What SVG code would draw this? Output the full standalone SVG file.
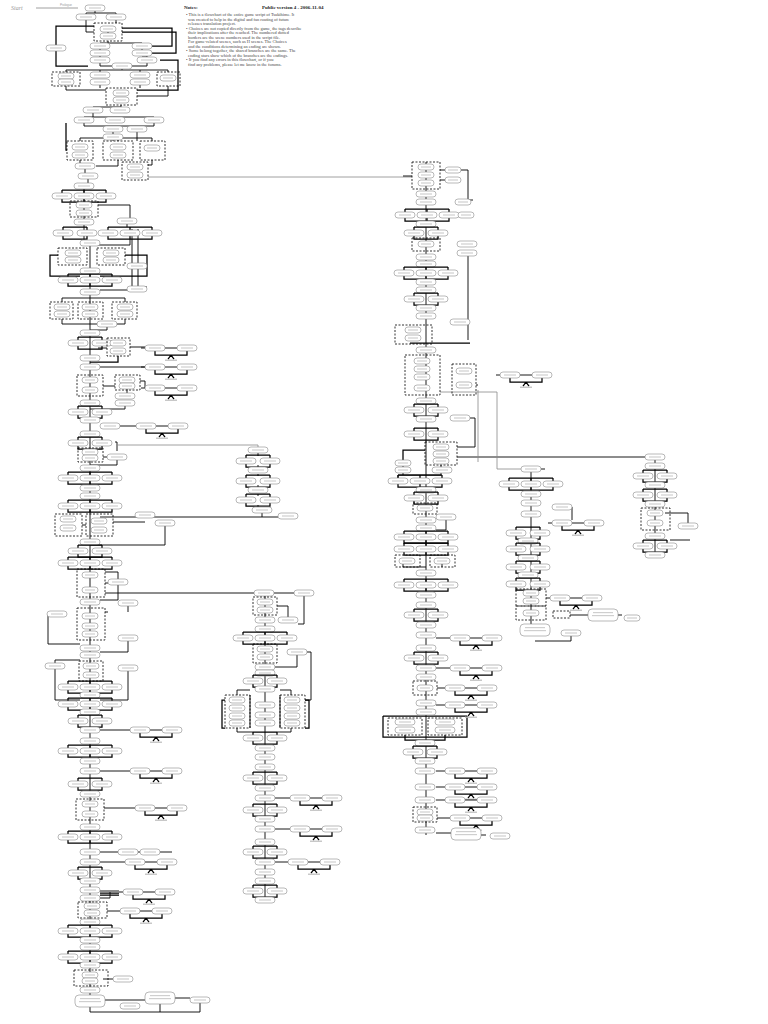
<svg xmlns="http://www.w3.org/2000/svg" xmlns:xlink="http://www.w3.org/1999/xlink" width="768" height="1024" viewBox="0 0 768 1024">
<style>
.n{fill:#fff;stroke:#8a8a8a;stroke-width:.6}
.tx{fill:#cfcfcf}
.c{fill:none;stroke:#000;stroke-width:.9}
.ct{fill:none;stroke:#000;stroke-width:1.25}
.cg{fill:none;stroke:#888;stroke-width:.8}
.d{fill:none;stroke:#000;stroke-width:.8;stroke-dasharray:2,1.5}
.nt{font-family:"Liberation Serif",serif;font-size:4.4px;fill:#444}
.hd{font-family:"Liberation Serif",serif;font-size:5px;font-weight:bold;fill:#222}
</style>
<defs>
<g id="p"><rect class="n" x="-10" y="-3" width="20" height="6" rx="3"/><rect class="tx" x="-6" y="-.6" width="12" height="1.2"/></g>
<g id="ps"><rect class="n" x="-8" y="-3" width="16" height="6" rx="3"/><rect class="tx" x="-5" y="-.6" width="10" height="1.2"/></g>
<g id="pb"><rect class="n" x="-15" y="-6" width="30" height="12" rx="4"/><rect class="tx" x="-10" y="-3" width="20" height="1.2"/><rect class="tx" x="-11" y="0" width="22" height="1.2"/></g>
<g id="b2"><path class="ct" d="M-12,-6H12M-12,-6V-3M12,-6V-3M-12,3V6H12V3"/><use href="#p" x="-12"/><use href="#p" x="12"/></g>
<g id="b3"><path class="ct" d="M-22,-6H22M-22,-6V-3M0,-6V-3M22,-6V-3M-22,3V6H22V3M0,3V6"/><use href="#p" x="-22"/><use href="#p"/><use href="#p" x="22"/></g>
<g id="ch"><path class="ct" d="M0,3V7H32V3M16,7L13,11M16,7L19,11"/><path class="c" d="M-14,0H-10M10,0H22"/><use href="#p"/><use href="#p" x="32"/><rect x="10" y="11.6" width="12" height="1.2" fill="#bbb"/></g>
</defs>
<rect width="768" height="1024" fill="#fff"/>

<g id="notes">
<text class="hd" x="184" y="9">Notes:</text>
<text class="hd" x="262" y="9">Public version 4 - 2006-11-04</text>
<text class="nt" x="186" y="16">• This is a flowchart of the entire game script of Tsukihime. It</text>
<text class="nt" x="188" y="20.5">was created to help in the digital and fan routing of future</text>
<text class="nt" x="188" y="25">releases translation project.</text>
<text class="nt" x="186" y="29.5">• Choices are not copied directly from the game, the tags describe</text>
<text class="nt" x="188" y="34">their implications after the reached. The numbered dotted</text>
<text class="nt" x="188" y="38.5">borders are the scene numbers used in the script file.</text>
<text class="nt" x="188" y="43">For game-related scenes, such as H scenes. The Choices</text>
<text class="nt" x="188" y="47.5">and the conditions determining an ending are shown.</text>
<text class="nt" x="186" y="52">• Some belong together, the shared branches are the same. The</text>
<text class="nt" x="188" y="56.5">ending stars show which of the branches are the endings.</text>
<text class="nt" x="186" y="61">• If you find any errors in this flowchart, or if you</text>
<text class="nt" x="188" y="65.5">find any problems, please let me know in the forums.</text>
<text x="11" y="10" font-family="Liberation Serif,serif" font-size="6" font-style="italic" fill="#999">Start</text>
<text x="60" y="6" font-family="Liberation Sans,sans-serif" font-size="3" fill="#999">Prologue</text>
</g>

<g id="connectors">
<path class="cg" d="M36,8H78"/>
<path class="c" d="M95,11V13M86,13H116M86,13V14M116,13V14M86,20V32H94M116,20V23M108,26V33M108,41V43M100,43H142M100,43V43M100,49V50M100,56V57M142,49V50M142,56H147V57M100,63V66H112M147,63V66H132M122,69V70M66,70H168M66,70V72M100,70V72M140,70V72M168,70V72M66,86V90H106M100,85V88M140,85V88M168,86V96H137M121,105V107M93,107H121M93,113V117M84,117H154M84,123V126H154V123M113,126V126M137,126V126M113,132V134M137,132V141M113,140V141M80,141V138H152V141M118,138V141M80,160V163M85,169V173M118,160V166H96M152,160V165H148M88,179V183"/>
<path class="ct" d="M56,45V26H94M56,51V66H88M152,46H172V28H122M152,53H176V32H122M160,60H178V90H137M66,123V150H67"/>
<path class="cg" d="M148,177H412"/>
<path class="c" d="M84,186V242H90V1000"/>
<path class="c" d="M98,205H130V218M127,224V227M130,239V245H90M132,229V290H100M138,229V287H147"/>
<path class="ct" d="M58,255H50V276H80M125,255H147V276H100"/>
<path class="c" d="M62,302V298H125V302M62,319V324H117M125,319V324H117M107,327V330H90M130,347H145M98,348H107M100,367H145M103,386H115M140,381H145V388M127,389V393M125,406V409H90M120,426H132M115,442H117V451M117,460V465H90M103,457H107"/>
<path class="ct" d="M118,356V362H90"/>
<path class="cg" d="M117,445H258V447"/>
<path class="c" d="M100,517H278M113,522H145M165,526V545H90M82,525H86"/>
<path class="c" d="M105,583H108M118,579V572H105M118,585V600H100M105,593H254M48,614V644H80M108,612H105M128,612V606M128,641V652H100M55,663V660H80M55,669V700H80M128,671V700H100"/>
<path class="c" d="M100,730H126M100,771H126M104,808H131M100,852H118M138,852H140M160,852H172M100,862H121M100,891H119M100,898H110V892M107,911H116M103,979H113M105,1000H145M175,998H190M90,1006V1012H160V1004M200,1003V1012H160"/>
<path class="ct" d="M100,893H119M100,895H119"/>
<path class="c" d="M258,453V456M258,465V467M258,474V476M258,485V487M258,494V496M258,505V507M262,513V517"/>
<path class="c" d="M265,593V900M274,593H294M304,596V624H298M288,617V606H277M307,652H311V700H305M265,667H297V655M250,690H237V695M280,690H291V695M250,695V728M280,695V728M237,728V732H253M291,728V732H277M275,798H286M275,829H286M275,862H284"/>
<path class="ct" d="M225,700H222V728H225M305,700H309V728H305"/>
<path class="c" d="M426,162V835M403,176H412M440,170H445M440,180H445M461,170H468V200H473M468,253V340M403,466V475M398,478V475H441V473M441,465V467M446,520V530H436M403,561V567H426M442,561V567"/>
<path class="ct" d="M410,343H470M425,450H403V460M383,716H467M383,716V737H467V716M405,735V740H425M445,735V740H425"/>
<path class="c" d="M457,457H645M457,447H475V418H470M436,638H446M436,668H446M437,688H441M436,705H441M436,771H441M436,787H441M436,800H441M437,818H446M436,833H451M481,835H486M431,403H425M476,385H478"/>
<path class="cg" d="M478,390V462M440,392H497V469H521"/>
<path class="c" d="M531,469V632M541,469H545M572,507V520M570,615H588M618,615H622M571,636V641H535"/>
<path class="c" d="M655,457V555M665,513H688V523M670,540H690"/>
</g>

<g id="nodes-left">
<use id="l0" href="#p" x="95" y="8"/>
<use id="l1" href="#p" x="86" y="17"/><use id="l2" href="#p" x="116" y="17"/>
<rect class="d" x="94" y="23" width="28" height="18"/>
<use id="l3" href="#ps" x="108" y="29"/><use id="l4" href="#ps" x="108" y="36"/>
<use id="l5" href="#p" x="56" y="48"/>
<use id="l6" href="#p" x="100" y="46"/><use id="l7" href="#p" x="100" y="53"/><use id="l8" href="#p" x="100" y="60"/>
<use id="l9" href="#p" x="142" y="46"/><use id="l10" href="#p" x="142" y="53"/><use id="l11" href="#p" x="147" y="60"/>
<use id="l12" href="#p" x="122" y="66"/>
<rect class="d" x="52" y="72" width="28" height="14"/><use id="l13" href="#ps" x="66" y="76"/><use id="l14" href="#ps" x="66" y="82"/>
<use id="l15" href="#p" x="100" y="75"/><use id="l16" href="#p" x="100" y="82"/>
<use id="l17" href="#p" x="140" y="75"/><use id="l18" href="#p" x="140" y="82"/>
<rect class="d" x="157" y="72" width="23" height="14"/><use id="l19" href="#ps" x="168" y="78"/>
<rect class="d" x="106" y="88" width="31" height="17"/><use id="l20" href="#ps" x="121" y="93"/><use id="l21" href="#ps" x="121" y="100"/>
<use id="l22" href="#p" x="93" y="110"/><use id="l23" href="#p" x="120" y="110"/>
<use id="l24" href="#p" x="84" y="120"/><use id="l25" href="#p" x="115" y="120"/><use id="l26" href="#p" x="154" y="120"/>
<use id="l27" href="#p" x="113" y="129"/><use id="l28" href="#p" x="137" y="129"/>
<use id="l29" href="#p" x="113" y="137"/>
<rect class="d" x="67" y="141" width="26" height="19"/><use id="l30" href="#ps" x="80" y="147"/><use id="l31" href="#ps" x="80" y="155"/>
<rect class="d" x="103" y="141" width="30" height="19"/><use id="l32" href="#ps" x="118" y="147"/><use id="l33" href="#ps" x="118" y="155"/>
<rect class="d" x="140" y="141" width="25" height="19"/><use id="l34" href="#ps" x="152" y="148"/>
<use id="l35" href="#p" x="85" y="166"/>
<rect class="d" x="122" y="162" width="26" height="18"/><use id="l36" href="#ps" x="135" y="167"/><use id="l37" href="#ps" x="135" y="175"/>
<use id="l38" href="#p" x="88" y="176"/>
<use id="l39" href="#p" x="84" y="186"/>
<use id="l40" href="#b3" x="84" y="196"/>
<rect class="d" x="70" y="201" width="28" height="16"/><use id="l41" href="#ps" x="84" y="205"/><use id="l42" href="#ps" x="84" y="213"/>
<use id="l43" href="#p" x="84" y="222"/><use id="l44" href="#p" x="127" y="221"/>
<use id="l45" href="#b2" x="75" y="233"/><use id="l46" href="#b3" x="130" y="233"/>
<use id="l47" href="#p" x="90" y="243"/>
<rect class="d" x="58" y="248" width="29" height="17"/><use id="l48" href="#ps" x="73" y="253"/><use id="l49" href="#ps" x="73" y="260"/>
<rect class="d" x="97" y="248" width="28" height="17"/><use id="l50" href="#ps" x="111" y="253"/><use id="l51" href="#ps" x="111" y="260"/>
<use id="l52" href="#p" x="137" y="266"/>
<use id="l53" href="#p" x="90" y="271"/>
<use id="l54" href="#b3" x="90" y="280"/>
<use id="l55" href="#p" x="137" y="289"/>
<use id="l56" href="#p" x="90" y="292"/>
<rect class="d" x="50" y="302" width="23" height="17"/><use id="l57" href="#ps" x="62" y="307"/><use id="l58" href="#ps" x="62" y="314"/>
<rect class="d" x="78" y="302" width="25" height="17"/><use id="l59" href="#ps" x="90" y="307"/><use id="l60" href="#ps" x="90" y="314"/>
<rect class="d" x="112" y="302" width="25" height="17"/><use id="l61" href="#ps" x="125" y="307"/><use id="l62" href="#ps" x="125" y="314"/>
<use id="l63" href="#p" x="107" y="324"/>
<use id="l64" href="#p" x="90" y="333"/>
<use id="l65" href="#b2" x="90" y="343"/>
<rect class="d" x="107" y="338" width="23" height="18"/><use id="l66" href="#ps" x="118" y="343"/><use id="l67" href="#ps" x="118" y="351"/>
<use id="l68" href="#ch" x="155" y="348"/>
<use id="l69" href="#p" x="90" y="358"/>
<use id="l70" href="#p" x="90" y="367"/><use id="l71" href="#ch" x="155" y="367"/>
<rect class="d" x="77" y="375" width="26" height="21"/><use id="l72" href="#ps" x="90" y="380"/><use id="l73" href="#ps" x="90" y="390"/>
<rect class="d" x="115" y="375" width="25" height="15"/><use id="l74" href="#ps" x="127" y="380"/><use id="l75" href="#ps" x="127" y="386"/>
<use id="l76" href="#ch" x="155" y="388"/>
<use id="l77" href="#p" x="125" y="396"/><use id="l78" href="#p" x="125" y="403"/>
<use id="l79" href="#p" x="90" y="403"/>
<use id="l80" href="#b2" x="90" y="412"/>
<use id="l81" href="#p" x="90" y="420"/>
<use id="l82" href="#p" x="110" y="426"/><use id="l83" href="#ch" x="146" y="426"/>
<use id="l84" href="#p" x="90" y="434"/>
<use id="l85" href="#b2" x="90" y="443"/>
<rect class="d" x="78" y="448" width="25" height="14"/><use id="l86" href="#ps" x="90" y="452"/><use id="l87" href="#ps" x="90" y="458"/>
<use id="l88" href="#p" x="117" y="457"/>
<use id="l89" href="#p" x="90" y="468"/>
<use id="l90" href="#b3" x="90" y="478"/>
<use id="l91" href="#p" x="90" y="488"/><use id="l92" href="#p" x="90" y="496"/>
<use id="l93" href="#b3" x="90" y="506"/>
<rect class="d" x="55" y="514" width="27" height="22"/><use id="l94" href="#ps" x="68" y="519"/><use id="l95" href="#ps" x="68" y="528"/>
<rect class="d" x="86" y="514" width="27" height="22"/><use id="l96" href="#ps" x="99" y="521"/><use id="l97" href="#ps" x="99" y="530"/>
<use id="l98" href="#p" x="145" y="515"/><use id="l99" href="#p" x="165" y="523"/>
<use id="l100" href="#p" x="90" y="542"/>
<use id="l101" href="#b2" x="90" y="551"/>
<use id="l102" href="#b3" x="90" y="563"/>
<rect class="d" x="77" y="569" width="28" height="28"/><use id="l103" href="#ps" x="90" y="575"/><use id="l104" href="#ps" x="90" y="590"/>
<use id="l105" href="#p" x="118" y="582"/>
<use id="l106" href="#p" x="90" y="602"/>
<use id="l107" href="#p" x="128" y="603"/><use id="l108" href="#p" x="57" y="614"/>
<rect class="d" x="77" y="608" width="28" height="32"/><use id="l109" href="#ps" x="90" y="616"/><use id="l110" href="#ps" x="90" y="626"/><use id="l111" href="#ps" x="90" y="634"/>
<use id="l112" href="#p" x="128" y="638"/>
<use id="l113" href="#p" x="90" y="648"/><use id="l114" href="#p" x="90" y="655"/>
<rect class="d" x="79" y="661" width="24" height="20"/><use id="l115" href="#ps" x="91" y="666"/><use id="l116" href="#ps" x="91" y="675"/>
<use id="l117" href="#p" x="55" y="666"/><use id="l118" href="#p" x="128" y="668"/>
<use id="l119" href="#b3" x="90" y="687"/>
<use id="l120" href="#p" x="90" y="695"/>
<use id="l121" href="#b3" x="90" y="704"/>
<use id="l122" href="#p" x="90" y="712"/>
<use id="l123" href="#b2" x="90" y="721"/>
<use id="l124" href="#p" x="90" y="730"/><use id="l125" href="#ch" x="140" y="730"/>
<use id="l126" href="#p" x="90" y="741"/>
<use id="l127" href="#b3" x="90" y="751"/>
<use id="l128" href="#p" x="90" y="761"/>
<use id="l129" href="#p" x="90" y="771"/><use id="l130" href="#ch" x="140" y="771"/>
<use id="l131" href="#b2" x="90" y="784"/>
<use id="l132" href="#p" x="90" y="794"/>
<rect class="d" x="76" y="799" width="28" height="21"/><use id="l133" href="#ps" x="90" y="804"/><use id="l134" href="#ps" x="90" y="814"/>
<use id="l135" href="#ch" x="145" y="808"/>
<use id="l136" href="#p" x="90" y="827"/>
<use id="l137" href="#b3" x="90" y="837"/>
<use id="l138" href="#p" x="90" y="852"/><use id="l139" href="#p" x="128" y="852"/><use id="l140" href="#p" x="150" y="852"/>
<use id="l141" href="#p" x="90" y="862"/><use id="l142" href="#ch" x="135" y="862"/>
<use id="l143" href="#b2" x="90" y="873"/>
<use id="l144" href="#p" x="90" y="881"/>
<use id="l145" href="#p" x="90" y="890"/><use id="l146" href="#p" x="90" y="898"/><use id="l147" href="#ch" x="133" y="892"/>
<rect class="d" x="78" y="902" width="29" height="16"/><use id="l148" href="#ps" x="92" y="906"/><use id="l149" href="#ps" x="92" y="913"/>
<use id="l150" href="#ch" x="130" y="911"/>
<use id="l151" href="#p" x="90" y="922"/>
<use id="l152" href="#b3" x="90" y="931"/>
<use id="l153" href="#p" x="90" y="940"/><use id="l154" href="#p" x="90" y="947"/>
<use id="l155" href="#b3" x="90" y="957"/>
<use id="l156" href="#p" x="90" y="965"/>
<rect class="d" x="74" y="970" width="34" height="16"/><use id="l157" href="#ps" x="90" y="975"/><use id="l158" href="#ps" x="90" y="981"/>
<use id="l159" href="#p" x="123" y="979"/>
<use id="l160" href="#p" x="90" y="990"/>
<use id="l161" href="#pb" x="90" y="1001"/><use id="l162" href="#p" x="130" y="1006"/>
<use id="l163" href="#pb" x="160" y="998"/><use id="l164" href="#p" x="200" y="1000"/>
</g>

<g id="nodes-middle">
<use id="m0" href="#p" x="258" y="450"/>
<use id="m1" href="#b2" x="258" y="461"/>
<use id="m2" href="#p" x="258" y="470"/>
<use id="m3" href="#b2" x="258" y="481"/>
<use id="m4" href="#p" x="258" y="490"/>
<use id="m5" href="#b2" x="258" y="500"/>
<use id="m6" href="#p" x="262" y="510"/>
<use id="m7" href="#p" x="288" y="516"/>
<use id="m8" href="#p" x="264" y="593"/><use id="m9" href="#p" x="304" y="593"/>
<rect class="d" x="253" y="597" width="24" height="18"/><use id="m10" href="#ps" x="265" y="602"/><use id="m11" href="#ps" x="265" y="610"/>
<use id="m12" href="#p" x="265" y="620"/><use id="m13" href="#p" x="288" y="620"/>
<use id="m14" href="#p" x="265" y="629"/>
<use id="m15" href="#b3" x="265" y="638"/>
<rect class="d" x="253" y="644" width="24" height="19"/><use id="m16" href="#ps" x="265" y="649"/><use id="m17" href="#ps" x="265" y="657"/>
<use id="m18" href="#p" x="297" y="652"/>
<use id="m19" href="#p" x="265" y="667"/><use id="m20" href="#p" x="265" y="673"/>
<use id="m21" href="#b2" x="265" y="681"/>
<use id="m22" href="#p" x="265" y="689"/>
<rect class="d" x="225" y="695" width="25" height="33"/>
<use id="m23" href="#ps" x="237" y="700"/><use id="m24" href="#ps" x="237" y="708"/><use id="m25" href="#ps" x="237" y="716"/><use id="m26" href="#ps" x="237" y="723"/>
<rect class="d" x="280" y="695" width="25" height="33"/>
<use id="m27" href="#ps" x="292" y="700"/><use id="m28" href="#ps" x="292" y="708"/><use id="m29" href="#ps" x="292" y="716"/><use id="m30" href="#ps" x="292" y="723"/>
<use id="m31" href="#p" x="265" y="705"/><use id="m32" href="#p" x="265" y="715"/><use id="m33" href="#p" x="265" y="723"/>
<use id="m34" href="#b2" x="265" y="738"/>
<use id="m35" href="#p" x="265" y="748"/><use id="m36" href="#p" x="265" y="757"/>
<use id="m37" href="#p" x="265" y="767"/>
<use id="m38" href="#b2" x="265" y="778"/>
<use id="m39" href="#p" x="265" y="788"/>
<use id="m40" href="#p" x="265" y="798"/><use id="m41" href="#ch" x="300" y="798"/>
<use id="m42" href="#b2" x="265" y="810"/>
<use id="m43" href="#p" x="265" y="819"/>
<use id="m44" href="#p" x="265" y="829"/><use id="m45" href="#ch" x="300" y="829"/>
<use id="m46" href="#p" x="265" y="842"/>
<use id="m47" href="#b2" x="265" y="852"/>
<use id="m48" href="#p" x="265" y="862"/><use id="m49" href="#ch" x="298" y="862"/>
<use id="m50" href="#p" x="265" y="872"/>
<use id="m51" href="#p" x="265" y="881"/>
<use id="m52" href="#b2" x="265" y="891"/>
<use id="m53" href="#p" x="265" y="900"/>
</g>

<g id="nodes-right">
<rect class="d" x="412" y="162" width="28" height="27"/>
<use id="r0" href="#ps" x="426" y="167"/><use id="r1" href="#ps" x="426" y="175"/><use id="r2" href="#ps" x="426" y="183"/>
<use id="r3" href="#ps" x="453" y="170"/><use id="r4" href="#ps" x="453" y="180"/>
<use id="r5" href="#p" x="426" y="194"/><use id="r6" href="#p" x="426" y="202"/><use id="r7" href="#ps" x="463" y="202"/>
<use id="r8" href="#b3" x="427" y="215"/><use id="r9" href="#ps" x="466" y="215"/>
<use id="r10" href="#p" x="426" y="224"/>
<use id="r11" href="#b2" x="426" y="233"/>
<rect class="d" x="412" y="238" width="28" height="13"/><use id="r12" href="#ps" x="426" y="244"/>
<use id="r13" href="#p" x="467" y="244"/><use id="r14" href="#p" x="467" y="253"/>
<use id="r15" href="#p" x="426" y="257"/><use id="r16" href="#p" x="426" y="264"/>
<use id="r17" href="#b3" x="426" y="273"/>
<use id="r18" href="#p" x="426" y="282"/><use id="r19" href="#p" x="426" y="290"/>
<use id="r20" href="#b2" x="426" y="299"/>
<use id="r21" href="#p" x="426" y="308"/><use id="r22" href="#p" x="426" y="316"/>
<use id="r23" href="#p" x="460" y="322"/>
<rect class="d" x="395" y="325" width="37" height="19"/><use id="r24" href="#ps" x="413" y="330"/><use id="r25" href="#ps" x="413" y="338"/>
<use id="r26" href="#p" x="426" y="350"/>
<rect class="d" x="405" y="355" width="35" height="40"/>
<use id="r27" href="#ps" x="422" y="361"/><use id="r28" href="#ps" x="422" y="369"/><use id="r29" href="#ps" x="422" y="377"/><use id="r30" href="#ps" x="422" y="388"/>
<rect class="d" x="452" y="364" width="24" height="31"/><use id="r31" href="#ps" x="464" y="371"/><use id="r32" href="#ps" x="464" y="385"/>
<use id="r33" href="#ch" x="510" y="375"/>
<use id="r34" href="#p" x="426" y="401"/>
<use id="r35" href="#b2" x="426" y="410"/>
<use id="r36" href="#p" x="426" y="419"/><use id="r37" href="#p" x="460" y="418"/>
<use id="r38" href="#b2" x="426" y="434"/>
<rect class="d" x="425" y="442" width="32" height="23"/>
<use id="r39" href="#ps" x="441" y="447"/><use id="r40" href="#ps" x="441" y="454"/><use id="r41" href="#ps" x="441" y="461"/>
<use id="r42" href="#ps" x="403" y="463"/><use id="r43" href="#ps" x="403" y="470"/><use id="r44" href="#p" x="442" y="470"/>
<use id="r45" href="#b3" x="420" y="481"/>
<use id="r46" href="#p" x="426" y="490"/>
<use id="r47" href="#b2" x="426" y="498"/>
<rect class="d" x="413" y="503" width="24" height="11"/><use id="r48" href="#ps" x="425" y="508"/>
<use id="r49" href="#p" x="446" y="517"/>
<use id="r50" href="#p" x="426" y="520"/><use id="r51" href="#p" x="426" y="528"/>
<use id="r52" href="#b3" x="426" y="537"/>
<use id="r53" href="#b3" x="426" y="549"/>
<rect class="d" x="395" y="555" width="25" height="12"/><use id="r54" href="#ps" x="407" y="561"/>
<rect class="d" x="430" y="555" width="25" height="12"/><use id="r55" href="#ps" x="442" y="561"/>
<use id="r56" href="#p" x="426" y="573"/>
<use id="r57" href="#b3" x="426" y="585"/>
<use id="r58" href="#p" x="426" y="595"/><use id="r59" href="#p" x="426" y="605"/>
<use id="r60" href="#b2" x="426" y="615"/>
<use id="r61" href="#p" x="426" y="625"/><use id="r62" href="#p" x="426" y="635"/>
<use id="r63" href="#ch" x="460" y="638"/>
<use id="r64" href="#p" x="426" y="648"/>
<use id="r65" href="#b2" x="426" y="658"/>
<use id="r66" href="#p" x="426" y="668"/><use id="r67" href="#ch" x="460" y="668"/>
<use id="r68" href="#p" x="426" y="677"/>
<rect class="d" x="413" y="681" width="24" height="14"/><use id="r69" href="#ps" x="425" y="688"/>
<use id="r70" href="#ch" x="455" y="688"/>
<use id="r71" href="#p" x="426" y="703"/><use id="r72" href="#ch" x="455" y="705"/>
<use id="r73" href="#p" x="426" y="712"/>
<rect class="d" x="388" y="718" width="34" height="17"/><use id="r74" href="#p" x="405" y="722"/><use id="r75" href="#p" x="405" y="730"/>
<rect class="d" x="428" y="718" width="34" height="17"/><use id="r76" href="#p" x="445" y="722"/><use id="r77" href="#p" x="445" y="730"/>
<use id="r78" href="#p" x="425" y="743"/>
<use id="r79" href="#b2" x="425" y="752"/>
<use id="r80" href="#p" x="425" y="761"/>
<use id="r81" href="#p" x="425" y="771"/><use id="r82" href="#ch" x="455" y="771"/>
<use id="r83" href="#p" x="425" y="787"/><use id="r84" href="#ch" x="455" y="787"/>
<use id="r85" href="#p" x="425" y="800"/><use id="r86" href="#ch" x="455" y="800"/>
<rect class="d" x="413" y="807" width="24" height="15"/><use id="r87" href="#ps" x="425" y="812"/><use id="r88" href="#ps" x="425" y="818"/>
<use id="r89" href="#ch" x="460" y="818"/>
<use id="r90" href="#p" x="425" y="830"/>
<use id="r91" href="#pb" x="466" y="834"/><use id="r92" href="#p" x="500" y="836"/>
</g>

<g id="nodes-far1">
<use id="f0" href="#p" x="531" y="469"/>
<use id="f1" href="#b3" x="531" y="484"/>
<use id="f2" href="#p" x="531" y="494"/><use id="f3" href="#p" x="531" y="503"/>
<use id="f4" href="#p" x="562" y="507"/>
<use id="f5" href="#p" x="531" y="514"/><use id="f6" href="#ch" x="562" y="523"/>
<use id="f7" href="#b2" x="528" y="533"/>
<use id="f8" href="#p" x="528" y="541"/>
<use id="f9" href="#b2" x="528" y="549"/>
<use id="f10" href="#p" x="528" y="558"/>
<use id="f11" href="#b2" x="528" y="567"/>
<use id="f12" href="#p" x="528" y="575"/>
<use id="f13" href="#b2" x="528" y="584"/>
<rect class="d" x="516" y="589" width="30" height="17"/><use id="f14" href="#ps" x="531" y="593"/><use id="f15" href="#ps" x="531" y="601"/>
<use id="f16" href="#ch" x="560" y="598"/>
<rect class="d" x="516" y="606" width="30" height="14"/><use id="f17" href="#ps" x="531" y="613"/>
<rect class="d" x="553" y="611" width="17" height="7"/>
<use id="f18" href="#pb" x="603" y="615"/><use id="f19" href="#ps" x="632" y="618"/>
<use id="f20" href="#pb" x="535" y="630"/><use id="f21" href="#p" x="571" y="633"/>
</g>

<g id="nodes-far2">
<use id="g0" href="#p" x="655" y="457"/>
<use id="g1" href="#p" x="655" y="466"/>
<use id="g2" href="#b2" x="655" y="476"/>
<use id="g3" href="#p" x="655" y="485"/>
<use id="g4" href="#b2" x="655" y="495"/>
<use id="g5" href="#p" x="655" y="504"/>
<rect class="d" x="641" y="508" width="29" height="22"/><use id="g6" href="#ps" x="655" y="513"/><use id="g7" href="#ps" x="655" y="523"/>
<use id="g8" href="#p" x="688" y="526"/>
<use id="g9" href="#p" x="655" y="536"/>
<use id="g10" href="#b2" x="655" y="546"/>
<use id="g11" href="#p" x="655" y="555"/>
</g>
</svg>
